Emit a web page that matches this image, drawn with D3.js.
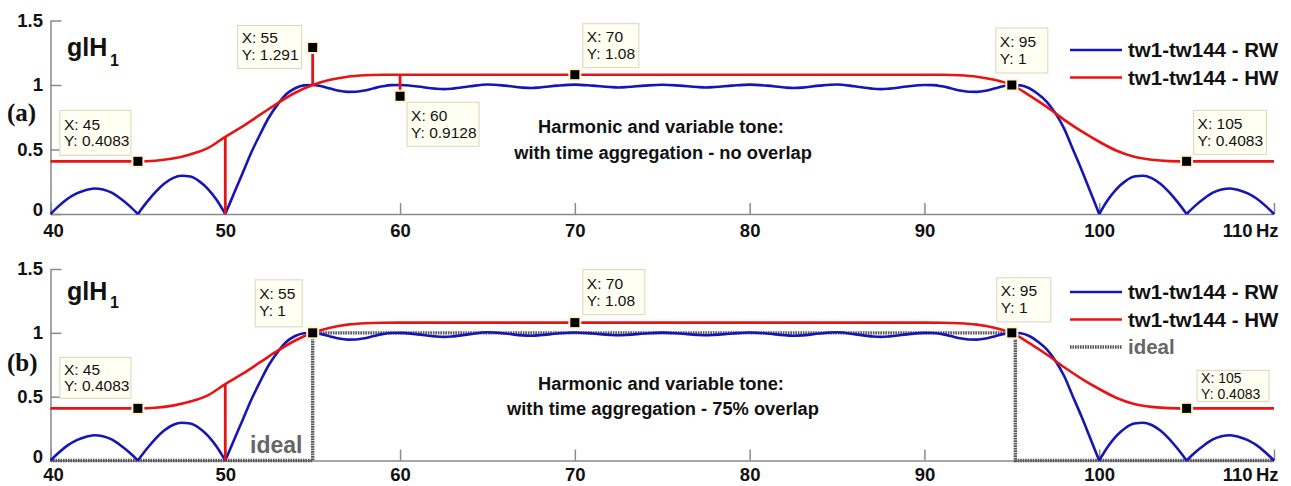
<!DOCTYPE html>
<html><head><meta charset="utf-8">
<script src="https://cdn.jsdelivr.net/npm/d3@7"></script>
<style>
body{margin:0;background:#fff;}
svg{display:block;font-family:"Liberation Sans",Arial,sans-serif;}
</style></head><body>
<svg id="chart" width="1291" height="486"></svg>
<script>
// ---------------- data ----------------
const xTicks = [40, 50, 60, 70, 80, 90, 100, 110];
const xTickLabels = ["40", "50", "60", "70", "80", "90", "100", "110"];
const yTicks = [0, 0.5, 1, 1.5];
const yTickLabels = ["0", "0.5", "1", "1.5"];
const seriesNames = ["tw1-tw144 - RW", "tw1-tw144 - HW", "ideal"];

// rectangular window (blue)
const rwHz = [40,40.5,41,41.5,42,42.5,43,43.5,44,44.5,45,
  45.5,46,46.5,47,47.5,48,48.5,49,49.5,50,
  50.5,51,51.5,52,52.5,53,53.5,54,54.5,55,
  55.5,56,56.5,57,57.5,58,58.5,59,59.5,60,
  61,62,62.5,63,64,65,66,67,67.5,68,69,70,71,72,72.5,73,74,75,
  76,77,77.5,78,79,80,81,82,82.5,83,84,85,86,87,87.5,88,89,90,
  90.5,91,91.5,92,92.5,93,93.5,94,94.5,95,
  95.5,96,96.5,97,97.5,98,98.5,99,99.5,100,
  100.5,101,101.5,102,102.5,103,103.5,104,104.5,105,
  105.5,106,106.5,107,107.5,108,108.5,109,109.5,110];
const rwVal = [0,0.065,0.12,0.16,0.185,0.198,0.19,0.165,0.12,0.065,0,
  0.09,0.17,0.235,0.278,0.296,0.29,0.255,0.195,0.11,0,
  0.16,0.32,0.48,0.62,0.75,0.85,0.93,0.975,0.997,1.0,
  0.99,0.972,0.955,0.947,0.948,0.958,0.975,0.99,0.999,1.0,
  0.988,0.972,0.968,0.972,0.99,1.004,0.995,0.98,0.977,0.981,0.995,1.003,0.995,0.984,0.981,0.984,0.995,1.002,
  0.995,0.984,0.981,0.984,0.995,1.003,0.995,0.981,0.977,0.98,0.995,1.004,0.99,0.972,0.968,0.972,0.988,1.0,
  0.999,0.99,0.975,0.958,0.948,0.947,0.955,0.972,0.99,1.0,
  0.997,0.975,0.93,0.87,0.78,0.66,0.5,0.34,0.17,0,
  0.11,0.195,0.255,0.29,0.296,0.278,0.235,0.17,0.09,0,
  0.065,0.12,0.165,0.19,0.198,0.185,0.16,0.12,0.065,0];

// Hann window (red)
const hwHz = [40,41,42,43,44,45,46,47,48,49,50,51,52,53,54,55,56,57,58,59,60,
  65,70,75,80,85,90,91,92,93,94,95,96,97,98,99,100,101,102,103,104,105,106,107,108,109,110];
const hwVal = [0.4083,0.4083,0.4083,0.4083,0.4083,0.4083,0.413,0.43,0.462,0.51,0.598,0.68,0.77,0.86,0.94,1.0,1.04,1.064,1.075,1.079,1.08,
  1.08,1.08,1.08,1.08,1.08,1.08,1.079,1.075,1.064,1.04,1.0,0.92,0.83,0.73,0.64,0.56,0.49,0.443,0.42,0.41,0.4083,0.4083,0.4083,0.4083,0.4083,0.4083];

// ideal band-pass
const idealHz = [40, 55, 55, 95.2, 95.2, 110];
const idealVal = [0, 0, 1, 1, 0, 0];

// spikes on the HW curve
const spikeHzA = [50, 55, 60];
const spikeValA = [0, 1.291, 0.9128];
const spikeHzB = [50];
const spikeValB = [0];

// data tips
const tipHzA = [45, 55, 60, 70, 95, 105];
const tipValA = [0.4083, 1.291, 0.9128, 1.08, 1, 0.4083];
const tipHzB = [45, 55, 70, 95, 105];
const tipValB = [0.4083, 1, 1.08, 1, 0.4083];

const annLine1 = "Harmonic and variable tone:";
const annLine2A = "with time aggregation - no overlap";
const annLine2B = "with time aggregation - 75% overlap";

// ---------------- layout ----------------
const blue = "#1616b4", red = "#e81414", gray = "#555555";
// tip box layout: [dx, dy, w, h, base1, base2, fontSize] relative to marker
const tipBoxA = [[-78,-51,71,45,19.5,36,15.5],[-75,-22,64,43,18,35,15.5],[7,6,72,44,18.5,35.5,15.5],
                 [8,-51,56,44,18.5,35.5,15.5],[-16,-57,52,45,19,36,15.5],[7,-51,73,44,18.5,35.5,15.5]];
const tipBoxB = [[-78,-51,71,41,17.5,33.5,15.5],[-57.5,-53,47,47,19,36,15.5],[8,-53,62,45,19,36,15.5],
                 [-15,-55,54,44,18.5,35.5,15.5],[10.5,-38,72,31,12.5,28.3,14]];

const panels = [
  {top:20.5, bottom:214, pad:10, spH:spikeHzA, spV:spikeValA, tH:tipHzA, tV:tipValA, boxes:tipBoxA,
   ideal:false, letter:"(a)", letterY:121, titleY:56, subY:66, annY:[133,159], ann2:annLine2A, legY:50},
  {top:269, bottom:460.5, pad:7, spH:spikeHzB, spV:spikeValB, tH:tipHzB, tV:tipValB, boxes:tipBoxB,
   ideal:true, letter:"(b)", letterY:371, titleY:300, subY:308, annY:[390,415], ann2:annLine2B, legY:292}
];

const svg = d3.select("#chart");
const x = d3.scaleLinear().domain([40, 110]).range([50.5, 1274]);

function segmentsAtZeros(hz, val) {
  // split a curve at interior zeros so the cusps stay sharp
  const segs = []; let cur = [];
  hz.forEach((h, i) => {
    cur.push([h, val[i]]);
    if (val[i] === 0 && i > 0 && i < hz.length - 1) { segs.push(cur); cur = [[h, val[i]]]; }
  });
  if (cur.length > 1) segs.push(cur);
  return segs;
}

panels.forEach(p => {
  const y = d3.scaleLinear().domain([0, 1.5]).range([p.bottom, p.top]);
  const g = svg.append("g");

  // axes
  const ax = g.append("g").attr("transform", `translate(0,${p.bottom})`)
    .call(d3.axisBottom(x).tickValues(xTicks).tickFormat((d, i) => xTickLabels[i])
      .tickSizeInner(-11).tickSizeOuter(0).tickPadding(p.pad));
  const ay = g.append("g").attr("transform", `translate(${x(40)},0)`)
    .call(d3.axisLeft(y).tickValues(yTicks).tickFormat((d, i) => yTickLabels[i])
      .tickSizeInner(-11).tickSizeOuter(0).tickPadding(7.5));
  [ax, ay].forEach(a => {
    a.select(".domain").attr("stroke", "#8a8a8a").attr("stroke-width", 1.5);
    a.selectAll(".tick line").attr("stroke", "#8a8a8a").attr("stroke-width", 1.5);
    a.selectAll(".tick text").attr("fill", "#111").attr("font-weight", "bold").attr("font-size", 18.5);
  });
  // zero label sits a little above its tick; first x label a little right
  ay.selectAll(".tick text").filter(d => d === 0).attr("dy", "0.1em");
  ax.selectAll(".tick text").filter(d => d === 40).attr("dx", 2.5);
  // last x tick label shifted left, followed by unit
  ax.selectAll(".tick text").filter(d => d === 110).attr("text-anchor", "end").attr("dx", -22);
  g.append("text").attr("x", 1256).attr("y", p.bottom + p.pad).attr("dy", "0.71em")
    .attr("font-size", 18.5).attr("font-weight", "bold").attr("fill", "#111").text("Hz");

  // ideal
  const lineLin = d3.line().x(d => x(d[0])).y(d => y(d[1]));
  if (p.ideal) {
    g.append("path").datum(idealHz.map((h, i) => [h, idealVal[i]]))
      .attr("d", lineLin).attr("fill", "none").attr("stroke", gray)
      .attr("stroke-width", 3.4).attr("stroke-dasharray", "1.6,0.9");
  }

  // RW curve
  const lineC = d3.line().x(d => x(d[0])).y(d => y(d[1])).curve(d3.curveMonotoneX);
  segmentsAtZeros(rwHz, rwVal).forEach(seg => {
    g.append("path").datum(seg).attr("d", lineC).attr("fill", "none")
      .attr("stroke", blue).attr("stroke-width", 2.6).attr("stroke-linejoin", "round");
  });
  // HW curve
  g.append("path").datum(hwHz.map((h, i) => [h, hwVal[i]])).attr("d", lineC).attr("fill", "none")
    .attr("stroke", red).attr("stroke-width", 2.6);
  // spikes
  p.spH.forEach((h, i) => {
    const base = hwVal[hwHz.indexOf(h)];
    g.append("line").attr("x1", x(h)).attr("x2", x(h)).attr("y1", y(base)).attr("y2", y(p.spV[i]))
      .attr("stroke", red).attr("stroke-width", 2.8);
  });

  // titles
  g.append("text").attr("x", 67).attr("y", p.titleY).attr("font-size", 25).attr("font-weight", "bold")
    .attr("fill", "#111").text("glH");
  g.append("text").attr("x", 110).attr("y", p.subY).attr("font-size", 16).attr("font-weight", "bold")
    .attr("fill", "#111").text("1");
  g.append("text").attr("x", 7).attr("y", p.letterY).attr("font-family", "'Liberation Serif','Times New Roman',serif")
    .attr("font-size", 25).attr("font-weight", "bold").attr("fill", "#111").text(p.letter);
  g.append("text").attr("x", 661).attr("y", p.annY[0]).attr("text-anchor", "middle")
    .attr("font-size", 18.3).attr("font-weight", "bold").attr("fill", "#111").text(annLine1);
  g.append("text").attr("x", 663).attr("y", p.annY[1]).attr("text-anchor", "middle")
    .attr("font-size", 18.3).attr("font-weight", "bold").attr("fill", "#111").text(p.ann2);
  if (p.ideal) {
    g.append("text").attr("x", 250).attr("y", 453).attr("font-size", 23).attr("font-weight", "bold")
      .attr("fill", "#666").text("ideal");
  }

  // legend
  const legColors = [blue, red, gray];
  const nLeg = p.ideal ? 3 : 2;
  for (let i = 0; i < nLeg; i++) {
    const ly = p.legY + i * 27.5;
    g.append("line").attr("x1", 1070).attr("x2", 1122).attr("y1", ly).attr("y2", ly)
      .attr("stroke", legColors[i]).attr("stroke-width", i === 2 ? 3.4 : 2.6)
      .attr("stroke-dasharray", i === 2 ? "1.6,0.9" : null);
    g.append("text").attr("x", 1128).attr("y", ly + 7).attr("font-size", 20.5).attr("font-weight", "bold")
      .attr("fill", i === 2 ? "#666" : "#111").text(seriesNames[i]);
  }

  // data tips
  p.tH.forEach((h, i) => {
    const mx = x(h), my = y(p.tV[i]);
    const [dx, dy, w, hh, b1, b2, fs] = p.boxes[i];
    const bx = mx + dx, by = my + dy;
    g.append("rect").attr("x", bx).attr("y", by).attr("width", w).attr("height", hh)
      .attr("fill", "#fffff2").attr("stroke", "#dcd5b8").attr("stroke-width", 1);
    g.append("text").attr("x", bx + 4).attr("y", by + b1).attr("font-size", fs).attr("fill", "#111")
      .text("X: " + h);
    g.append("text").attr("x", bx + 4).attr("y", by + b2).attr("font-size", fs).attr("fill", "#111")
      .text("Y: " + p.tV[i]);
  });
  p.tH.forEach((h, i) => {
    const mx = x(h), my = y(p.tV[i]);
    g.append("rect").attr("x", mx - 5.5).attr("y", my - 5.5).attr("width", 11).attr("height", 11)
      .attr("fill", "#000").attr("stroke", "#fff4cc").attr("stroke-width", 2);
  });
});
</script>
</body></html>
